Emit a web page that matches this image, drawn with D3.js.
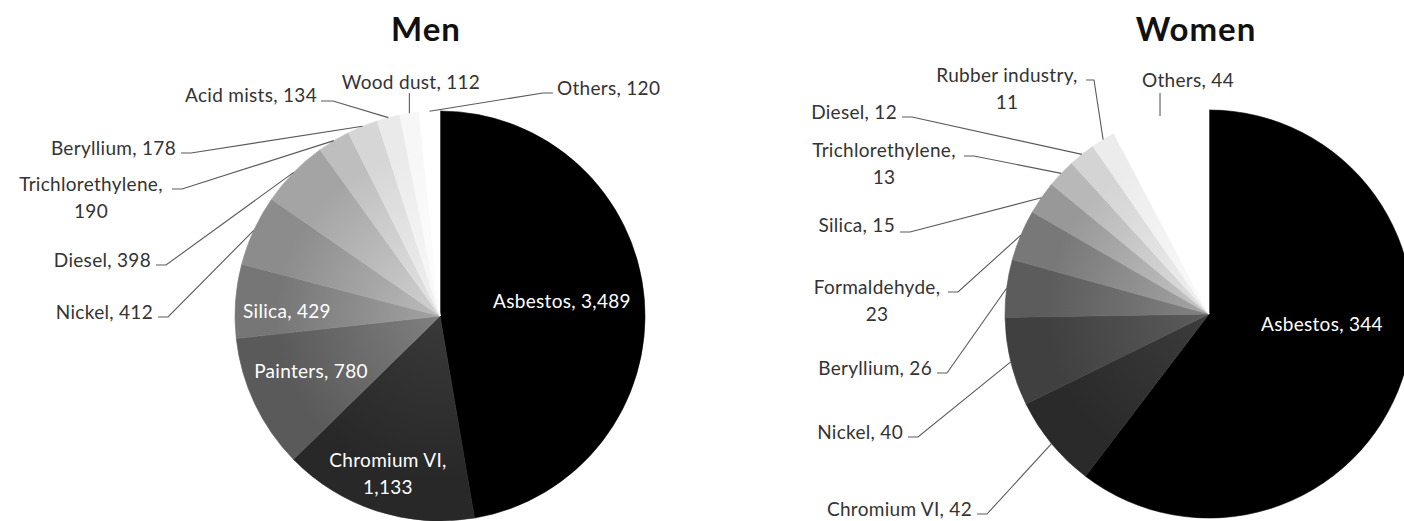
<!DOCTYPE html>
<html>
<head>
<meta charset="utf-8">
<script src="https://cdn.jsdelivr.net/npm/d3@7/dist/d3.min.js"></script>
<style>
  html, body { margin: 0; padding: 0; background: #fff; }
  svg { display: block; }
  text { font-family: Lato, "Open Sans", sans-serif; }
</style>
</head>
<body>
<svg id="chart" width="1404" height="521"></svg>
<script>
// Occupational cancer cases by exposure, men and women
const menCauses = ["Asbestos", "Chromium VI", "Painters", "Silica", "Nickel", "Diesel",
  "Trichlorethylene", "Beryllium", "Acid mists", "Wood dust", "Others"];
const menCases = [3489, 1133, 780, 429, 412, 398, 190, 178, 134, 112, 120];
const menShades = ["#000000", "#282828", "#5a5a5a", "#767676", "#8c8c8c", "#a4a4a4",
  "#bebebe", "#d6d6d6", "#eaeaea", "#f7f7f7", "#ffffff"];

const womenCauses = ["Asbestos", "Chromium VI", "Nickel", "Beryllium", "Formaldehyde", "Silica",
  "Trichlorethylene", "Diesel", "Rubber industry", "Others"];
const womenCases = [344, 42, 40, 26, 23, 15, 13, 12, 11, 44];
const womenShades = ["#000000", "#2a2a2a", "#404040", "#5c5c5c", "#787878", "#989898",
  "#b8b8b8", "#d4d4d4", "#ececec", "#ffffff"];

const titles = ["Men", "Women"];

// Label placement for each slice: text anchor, optional wrap after the comma,
// and the leader route (text end -> elbow -> pie rim). Inside labels have no leader.
const menLabelLayout = {
  "Asbestos":         { x: 562, y: 301, anchor: "middle", inside: true },
  "Chromium VI":      { x: 388, y: 460, anchor: "middle", inside: true, wrap: true },
  "Painters":         { x: 311, y: 371, anchor: "middle", inside: true },
  "Silica":           { x: 287, y: 311, anchor: "middle", inside: true },
  "Nickel":           { x: 153, y: 312, anchor: "end", lead: [[158, 317], [168, 317]] },
  "Diesel":           { x: 151, y: 260, anchor: "end", lead: [[156, 265], [166, 265]] },
  "Trichlorethylene": { x: 91,  y: 184, anchor: "middle", wrap: true, lead: [[172, 189], [182, 189]] },
  "Beryllium":        { x: 176, y: 148, anchor: "end", lead: [[181, 153], [191, 153]] },
  "Acid mists":       { x: 317, y: 95,  anchor: "end", lead: [[321, 101], [333, 101]] },
  "Wood dust":        { x: 411, y: 82,  anchor: "middle", lead: "vertical", top: 93 },
  "Others":           { x: 557, y: 88,  anchor: "start", lead: [[553, 93], [543, 93]] }
};
const womenLabelLayout = {
  "Asbestos":         { x: 1322, y: 324, anchor: "middle", inside: true },
  "Chromium VI":      { x: 972, y: 509, anchor: "end", lead: [[977, 514], [987, 514]] },
  "Nickel":           { x: 903, y: 432, anchor: "end", lead: [[908, 437], [918, 437]] },
  "Beryllium":        { x: 932, y: 368, anchor: "end", lead: [[937, 373], [947, 373]] },
  "Formaldehyde":     { x: 877, y: 287, anchor: "middle", wrap: true, lead: [[948, 292], [958, 292]] },
  "Silica":           { x: 895, y: 225, anchor: "end", lead: [[900, 232], [910, 232]] },
  "Trichlorethylene": { x: 884, y: 150, anchor: "middle", wrap: true, lead: [[964, 156], [974, 156]] },
  "Diesel":           { x: 897, y: 112, anchor: "end", lead: [[902, 117], [912, 117]] },
  "Rubber industry":  { x: 1007, y: 75, anchor: "middle", wrap: true, lead: [[1086, 80], [1094, 80]] },
  "Others":           { x: 1188, y: 80, anchor: "middle", lead: "vertical", top: 93 }
};

const pies = [
  { title: titles[0], causes: menCauses, cases: menCases, shades: menShades,
    layout: menLabelLayout, cx: 440, cy: 316, r: 205, titleX: 426 },
  { title: titles[1], causes: womenCauses, cases: womenCases, shades: womenShades,
    layout: womenLabelLayout, cx: 1209, cy: 314, r: 204, titleX: 1196 }
];

const svg = d3.select("#chart");
const defs = svg.append("defs");
const fmt = d3.format(",");
const pieLayout = d3.pie().sort(null).value(d => d.value);

pies.forEach((p, pi) => {
  const data = p.causes.map((c, i) => ({ cause: c, value: p.cases[i], shade: p.shades[i] }));
  const arcs = pieLayout(data);
  const arc = d3.arc().innerRadius(0).outerRadius(p.r);
  const rim = d3.arc().innerRadius(p.r).outerRadius(p.r);

  // soft shading: lighter slices wash out toward the centre
  // (gradient coordinates are in the slice group's own space, centred on 0,0)
  arcs.forEach((a, i) => {
    const base = d3.color(a.data.shade);
    const L = d3.hsl(base).l;
    const t = 0.9 * Math.pow(L, 1.3);
    const inner = d3.interpolateRgb(base, "#ffffff")(t);
    const g = defs.append("radialGradient")
      .attr("id", `shade-${pi}-${i}`)
      .attr("gradientUnits", "userSpaceOnUse")
      .attr("cx", 0).attr("cy", 0).attr("r", p.r);
    g.append("stop").attr("offset", 0).attr("stop-color", inner);
    g.append("stop").attr("offset", 0.8).attr("stop-color", base.formatHex());
    g.append("stop").attr("offset", 1).attr("stop-color", base.formatHex());
  });

  const g = svg.append("g").attr("transform", `translate(${p.cx},${p.cy})`);
  g.selectAll("path.slice")
    .data(arcs)
    .join("path")
    .attr("class", "slice")
    .attr("d", arc)
    .attr("fill", (d, i) => `url(#shade-${pi}-${i})`)
    .attr("stroke", (d, i) => `url(#shade-${pi}-${i})`)
    .attr("stroke-width", 0.6);

  svg.append("text")
    .attr("x", p.titleX)
    .attr("y", 41)
    .attr("text-anchor", "middle")
    .attr("font-size", 33)
    .attr("font-weight", 700)
    .attr("letter-spacing", 1)
    .attr("fill", "#111")
    .text(p.title);

  // leaders
  const lines = svg.append("g").attr("fill", "none").attr("stroke", "#5a5a5a").attr("stroke-width", 1.1);
  arcs.forEach(a => {
    const lay = p.layout[a.data.cause];
    if (!lay || lay.inside) return;
    const c = rim.centroid(a);
    const end = [p.cx + c[0], p.cy + c[1]];
    const pts = lay.lead === "vertical" ? [[end[0], lay.top], end] : [...lay.lead, end];
    lines.append("path").attr("d", d3.line()(pts));
  });

  // labels
  arcs.forEach(a => {
    const lay = p.layout[a.data.cause];
    if (!lay) return;
    const name = a.data.cause + ",";
    const val = fmt(a.data.value);
    const t = svg.append("text")
      .attr("x", lay.x)
      .attr("y", lay.y)
      .attr("dy", "0.35em")
      .attr("text-anchor", lay.anchor)
      .attr("font-size", 19)
      .attr("letter-spacing", 0.3)
      .attr("fill", lay.inside ? "#ffffff" : "#333333");
    if (lay.wrap) {
      t.append("tspan").attr("x", lay.x).text(name);
      t.append("tspan").attr("x", lay.x).attr("dy", 27).text(val);
    } else {
      t.text(name + " " + val);
    }
  });
});
</script>
</body>
</html>
